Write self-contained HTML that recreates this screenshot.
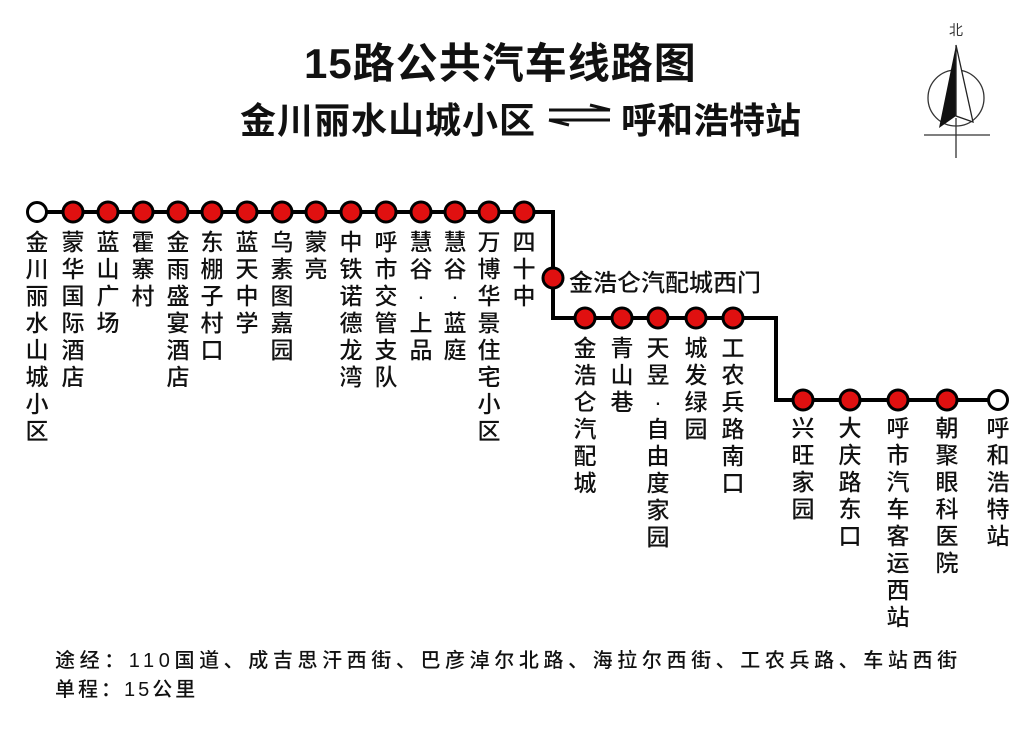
<!DOCTYPE html>
<html><head><meta charset="utf-8"><style>
body{margin:0;width:1033px;height:729px;background:#fff;position:relative;overflow:hidden;font-family:"Liberation Sans","Noto Sans CJK SC",sans-serif;color:#111}
.v{position:absolute;width:26px;font-size:23px;line-height:27px;text-align:center;word-break:break-all;font-weight:500}
.t{position:absolute;white-space:nowrap}
svg{position:absolute;left:0;top:0}
</style></head><body>
<svg width="1033" height="729">
<polyline points="37,212 553,212 553,318 776,318 776,400 998,400" fill="none" stroke="#000" stroke-width="4"/>
<g stroke="#000" stroke-width="3" fill="#e01010">
<circle cx="37" cy="212" r="9.5" fill="#fff"/>
<circle cx="73" cy="212" r="10"/><circle cx="108" cy="212" r="10"/><circle cx="143" cy="212" r="10"/><circle cx="178" cy="212" r="10"/><circle cx="212" cy="212" r="10"/><circle cx="247" cy="212" r="10"/><circle cx="282" cy="212" r="10"/><circle cx="316" cy="212" r="10"/><circle cx="351" cy="212" r="10"/><circle cx="386" cy="212" r="10"/><circle cx="421" cy="212" r="10"/><circle cx="455" cy="212" r="10"/><circle cx="489" cy="212" r="10"/><circle cx="524" cy="212" r="10"/>
<circle cx="553" cy="278" r="10"/>
<circle cx="585" cy="318" r="10"/><circle cx="622" cy="318" r="10"/><circle cx="658" cy="318" r="10"/><circle cx="696" cy="318" r="10"/><circle cx="733" cy="318" r="10"/>
<circle cx="803" cy="400" r="10"/><circle cx="850" cy="400" r="10"/><circle cx="898" cy="400" r="10"/><circle cx="947" cy="400" r="10"/>
<circle cx="998" cy="400" r="9.5" fill="#fff"/>
</g>
<g stroke="#111" stroke-width="3" fill="none">
<line x1="549" y1="110" x2="610" y2="110"/><line x1="590" y1="105" x2="610" y2="110"/>
<line x1="549" y1="120" x2="610" y2="120"/><line x1="549" y1="120" x2="569" y2="125"/>
</g>
<g stroke="#333" stroke-width="1.3" fill="none">
<circle cx="956" cy="98" r="28"/>
<line x1="924" y1="135" x2="990" y2="135"/>
<line x1="956" y1="118" x2="956" y2="158"/>
</g>
<polygon points="956,45 939,128 956,116" fill="#111"/>
<polygon points="956,45 973,122 956,116" fill="#fff" stroke="#222" stroke-width="1.3"/>
<text x="949" y="35" font-size="14" font-family="Liberation Sans,Noto Sans CJK SC,sans-serif" fill="#333">北</text>
</svg>
<div class="t" style="left:304px;top:30px;font-size:42px;font-weight:bold;letter-spacing:1px">15路公共汽车线路图</div>
<div class="t" style="left:240px;top:92px;font-size:36px;font-weight:bold;letter-spacing:1px">金川丽水山城小区</div>
<div class="t" style="left:621px;top:92px;font-size:36px;font-weight:bold">呼和浩特站</div>
<div class="t" style="left:569px;top:263px;font-size:24px;font-weight:500">金浩仑汽配城西门</div>

<div class="v" style="left:24px;top:229px">金川丽水山城小区</div>
<div class="v" style="left:60px;top:229px">蒙华国际酒店</div>
<div class="v" style="left:95px;top:229px">蓝山广场</div>
<div class="v" style="left:130px;top:229px">霍寨村</div>
<div class="v" style="left:165px;top:229px">金雨盛宴酒店</div>
<div class="v" style="left:199px;top:229px">东棚子村口</div>
<div class="v" style="left:234px;top:229px">蓝天中学</div>
<div class="v" style="left:269px;top:229px">乌素图嘉园</div>
<div class="v" style="left:303px;top:229px">蒙亮</div>
<div class="v" style="left:338px;top:229px">中铁诺德龙湾</div>
<div class="v" style="left:373px;top:229px">呼市交管支队</div>
<div class="v" style="left:408px;top:229px">慧谷·上品</div>
<div class="v" style="left:442px;top:229px">慧谷·蓝庭</div>
<div class="v" style="left:476px;top:229px">万博华景住宅小区</div>
<div class="v" style="left:511px;top:229px">四十中</div>

<div class="v" style="left:572px;top:335px">金浩仑汽配城</div>
<div class="v" style="left:609px;top:335px">青山巷</div>
<div class="v" style="left:645px;top:335px">天昱·自由度家园</div>
<div class="v" style="left:683px;top:335px">城发绿园</div>
<div class="v" style="left:720px;top:335px">工农兵路南口</div>

<div class="v" style="left:790px;top:415px">兴旺家园</div>
<div class="v" style="left:837px;top:415px">大庆路东口</div>
<div class="v" style="left:885px;top:415px">呼市汽车客运西站</div>
<div class="v" style="left:934px;top:415px">朝聚眼科医院</div>
<div class="v" style="left:985px;top:415px">呼和浩特站</div>

<div class="t" style="left:55px;top:644px;font-size:20px;letter-spacing:4.6px;font-weight:500">途经：110国道、成吉思汗西街、巴彦淖尔北路、海拉尔西街、工农兵路、车站西街</div>
<div class="t" style="left:55px;top:673px;font-size:20px;letter-spacing:3px;font-weight:500">单程：15公里</div>
</body></html>
